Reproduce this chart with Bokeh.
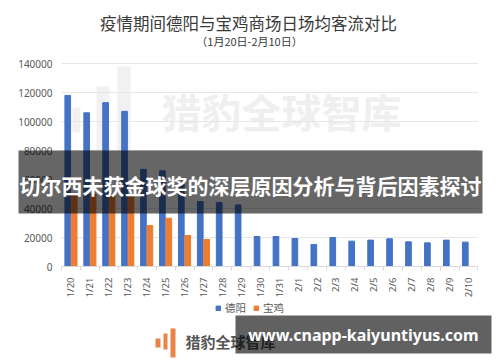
import math
from bokeh.plotting import figure
from bokeh.models import (Range1d, ColumnDataSource, Legend, LegendItem, Label,
                          BoxAnnotation, FixedTicker, NumeralTickFormatter, LinearAxis)
from bokeh.embed import file_html
from bokeh.resources import INLINE

# ---- data ----
dates = ["1/20", "1/21", "1/22", "1/23", "1/24", "1/25", "1/26", "1/27", "1/28", "1/29",
         "1/30", "1/31", "2/1", "2/2", "2/3", "2/4", "2/5", "2/6", "2/7", "2/8", "2/9", "2/10"]
deyang = [118000, 106000, 113000, 107000, 67000, 66000, 57000, 44800, 44100, 42500,
          20700, 20700, 19300, 15200, 20000, 17500, 18200, 19100, 17000, 16300, 18200, 16800]
baoji_dates = ["1/20", "1/21", "1/22", "1/23", "1/24", "1/25", "1/26", "1/27"]
baoji = [50000, 50000, 50000, 49000, 28300, 33300, 21400, 18600]
y_ticks = [0, 20000, 40000, 60000, 80000, 100000, 120000, 140000]

title_text = "疫情期间德阳与宝鸡商场日场均客流对比"
subtitle_text = "（1月20日-2月10日）"
banner_text = "切尔西未获金球奖的深层原因分析与背后因素探讨"
url_text = "www.cnapp-kaiyuntiyus.com"
watermark_text = "猎豹全球智库"

CJK = "Noto Sans CJK SC"
BLUE = "#4472C4"
ORANGE = "#ED7D31"
GREY = "#595959"

W, H = 500, 362
# plot area in page pixels
PA_LEFT, PA_BOTTOM, PA_TOP = 61.0, 266.0, 63.0
CAT_W = 18.93
n = len(dates)
x_start = -PA_LEFT / CAT_W
x_end = (W - PA_LEFT) / CAT_W
ymax = y_ticks[-1]
y_per_px = ymax / (PA_BOTTOM - PA_TOP)
y_start = -(H - PA_BOTTOM) * y_per_px
y_end = ymax + PA_TOP * y_per_px

def sy(py):
    return H - py

p = figure(x_range=Range1d(x_start, x_end), y_range=Range1d(y_start, y_end),
           width=W, height=H, output_backend="svg", toolbar_location=None,
           x_axis_type=None, y_axis_type=None,
           min_border=0, min_border_left=0, min_border_right=0,
           min_border_top=0, min_border_bottom=0)
p.outline_line_color = None
p.background_fill_color = "white"
p.border_fill_color = "white"
p.xgrid.visible = False
p.ygrid.visible = False

pos = {d: i + 0.5 for i, d in enumerate(dates)}

# y axis
yax = LinearAxis(fixed_location=0, ticker=FixedTicker(ticks=y_ticks),
                 formatter=NumeralTickFormatter(format="0"))
yax.axis_line_color = None
yax.major_tick_line_color = None
yax.minor_tick_line_color = None
yax.major_tick_out = 0
yax.major_tick_in = 0
yax.major_label_text_font_size = "10px"
yax.major_label_text_color = GREY
yax.major_label_text_font = "Noto Sans"
yax.major_label_standoff = 9
p.add_layout(yax, "left")

# x axis
xax = LinearAxis(fixed_location=0, bounds=(0, n),
                 ticker=FixedTicker(ticks=[pos[d] for d in dates],
                                    minor_ticks=list(range(n + 1))))
xax.major_label_overrides = {pos[d]: d for d in dates}
xax.axis_line_color = "#d9d9d9"
xax.major_tick_line_color = None
xax.major_tick_out = 0
xax.major_tick_in = 0
xax.minor_tick_line_color = "#d9d9d9"
xax.minor_tick_out = 4
xax.minor_tick_in = 0
xax.major_label_orientation = math.pi / 2
xax.major_label_text_font_size = "9.5px"
xax.major_label_text_color = GREY
xax.major_label_text_font = "Noto Sans"
xax.major_label_standoff = 7
p.add_layout(xax, "below")

# watermark (under bars)
for l, r, t, b in [(72, 80, 107, 132), (96, 109, 86, 150), (117, 130, 66, 152)]:
    p.add_layout(BoxAnnotation(left=l, right=r, top=sy(t), bottom=sy(b),
                               left_units="screen", right_units="screen",
                               top_units="screen", bottom_units="screen",
                               fill_color="#f1f1f1", fill_alpha=1, line_color=None,
                               level="underlay"))
p.add_layout(Label(x=281, y=sy(110), x_units="screen", y_units="screen",
                   text=watermark_text, text_font=CJK, text_font_size="40px",
                   text_font_style="bold", text_color="#efefef",
                   text_align="center", text_baseline="middle", level="underlay"))

# grid lines
p.segment(x0=0, x1=n, y0=y_ticks, y1=y_ticks, line_color="#e6e6e6", line_width=1)

src_d = ColumnDataSource(dict(x=[pos[d] - 0.17 for d in dates], y=deyang))
src_b = ColumnDataSource(dict(x=[pos[d] + 0.17 for d in baoji_dates], y=baoji))
r1 = p.vbar(x="x", top="y", width=0.3, source=src_d, color=BLUE)
r2 = p.vbar(x="x", top="y", width=0.3, source=src_b, color=ORANGE)

legend = Legend(items=[LegendItem(label="德阳", renderers=[r1]),
                       LegendItem(label="宝鸡", renderers=[r2])],
                orientation="horizontal", location=(215, 47),
                glyph_width=6, glyph_height=6, label_text_font_size="10.5px",
                label_text_font=CJK, label_text_color=GREY, label_standoff=4,
                spacing=7, padding=0, margin=0, border_line_color=None,
                background_fill_alpha=0)
p.add_layout(legend, "center")

# titles
p.add_layout(Label(x=248, y=sy(22), x_units="screen", y_units="screen",
                   text=title_text, text_font=CJK, text_font_size="16.5px",
                   text_color="#3a3a3a", text_align="center", text_baseline="middle"))
p.add_layout(Label(x=249, y=sy(40), x_units="screen", y_units="screen",
                   text=subtitle_text, text_font=CJK, text_font_size="11px",
                   text_color="#3a3a3a", text_align="center", text_baseline="middle"))

# overlay banner
p.add_layout(BoxAnnotation(left=18, right=482, top=sy(150), bottom=sy(213),
                           left_units="screen", right_units="screen",
                           top_units="screen", bottom_units="screen",
                           fill_color="black", fill_alpha=0.6, line_color=None))
p.add_layout(Label(x=250, y=sy(184), x_units="screen", y_units="screen",
                   text=banner_text, text_font=CJK, text_font_size="21px",
                   text_font_style="bold", text_color="white",
                   text_align="center", text_baseline="middle"))

# bottom logo
for l, r, t, b in [(155, 160, 338, 347), (163, 167, 333, 349), (170, 175, 328, 357)]:
    p.add_layout(BoxAnnotation(left=l, right=r, top=sy(t), bottom=sy(b),
                               left_units="screen", right_units="screen",
                               top_units="screen", bottom_units="screen",
                               fill_color="#E8834A", fill_alpha=1, line_color=None))
p.add_layout(Label(x=185, y=sy(341), x_units="screen", y_units="screen",
                   text=watermark_text, text_font=CJK, text_font_size="15px",
                   text_font_style="bold", text_color="#555555",
                   text_align="left", text_baseline="middle"))

# url banner
p.add_layout(BoxAnnotation(left=235, right=491, top=sy(315), bottom=sy(353),
                           left_units="screen", right_units="screen",
                           top_units="screen", bottom_units="screen",
                           fill_color="black", fill_alpha=0.62, line_color=None))
p.add_layout(Label(x=363, y=sy(334), x_units="screen", y_units="screen",
                   text=url_text, text_font="Noto Sans", text_font_size="16px",
                   text_font_style="bold", text_color="white",
                   text_align="center", text_baseline="middle"))

open("out.html", "w").write(file_html(p, INLINE))
